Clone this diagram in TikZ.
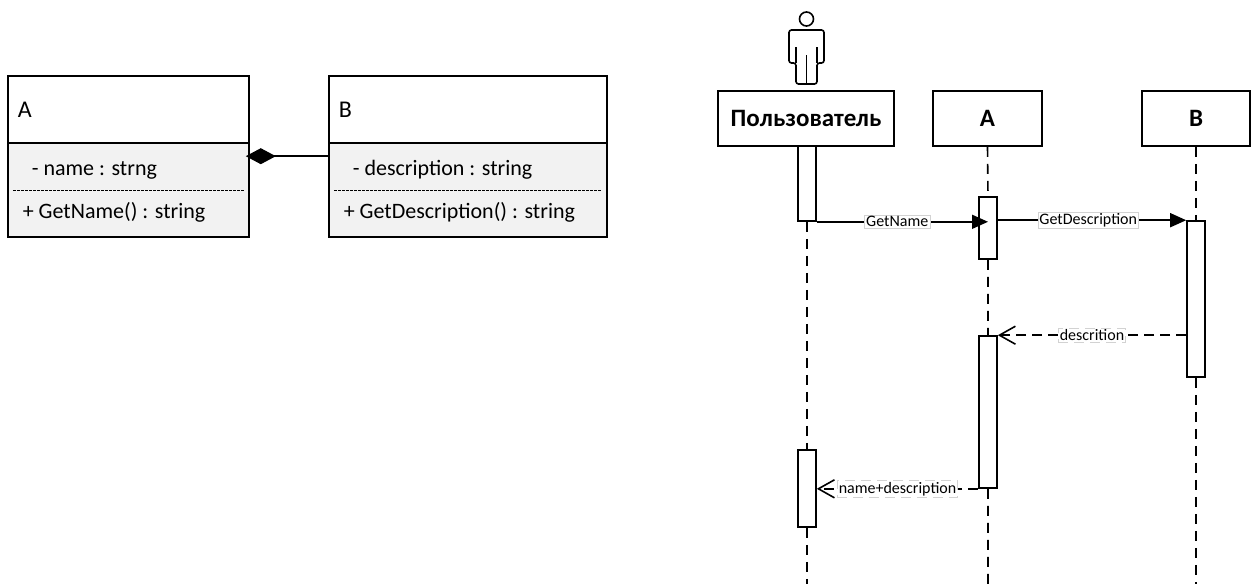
\documentclass[tikz,border=0pt]{standalone}
\usepackage{fontspec}
\setmainfont{Carlito}
\usetikzlibrary{arrows.meta,calc}

\begin{document}
\begin{tikzpicture}[x=1pt, y=-1pt, line width=1.6pt,
		head/.style={draw, fill=white, inner sep=0, minimum height=67pt},
		body/.style={draw, fill=gray!10, inner sep=0, minimum height=94pt},
		txt/.style={anchor=base west, inner sep=0, font=\fontsize{22}{26}\selectfont},
		sep/.style={line width=1pt, dash pattern=on 2.5pt off 1.5pt},
		obj/.style={draw, fill=white, inner sep=0, minimum height=55pt, font=\bfseries\fontsize{25}{29}\selectfont},
		act/.style={draw, fill=white, inner sep=0, minimum width=18pt},
		life/.style={dash pattern=on 10pt off 7pt},
		msg/.style={fill=white, draw=gray!35, line width=0.6pt, inner sep=1.5pt, font=\fontsize{16}{19}\selectfont},
		call/.style={-{Triangle[length=16pt,width=14pt]}},
		back/.style={-{Straight Barb[length=16pt,width=18pt]}, dash pattern=on 10pt off 6pt}]
		\useasboundingbox (0,0) rectangle (1251,584);
		
		\node[head, minimum width=241pt] (0) at (128.5,109.5) {};
		\node[body, minimum width=241pt] (1) at (128.5,190) {};
		\node[head, minimum width=278pt] (2) at (468,109.5) {};
		\node[body, minimum width=278pt] (3) at (468,190) {};
		
		\node[txt, font=\fontsize{24}{28}\selectfont] (4) at (17,117) {A};
		\node[txt] (5) at (31,175) {- name : strng};
		\node[txt] (6) at (22,218) {+ GetName() : string};
		\node[txt, font=\fontsize{24}{28}\selectfont] (7) at (338,117) {B};
		\node[txt] (8) at (352,175) {- description : string};
		\node[txt] (9) at (343,218) {+ GetDescription() : string};
		
		\draw[sep] ([xshift=6pt]1.west) -- ([xshift=-6pt]1.east);
		\draw[sep] ([xshift=6pt]3.west) -- ([xshift=-6pt]3.east);
		\draw[{Diamond[length=30pt,width=16pt]}-] ([xshift=-4pt,yshift=-14pt]1.north east) -- ([yshift=-14pt]3.north west);
		
		\draw[rounded corners=2.5pt] (796,84) -- (796,63) -- (789,63) -- (789,30) -- (824,30) -- (824,63) -- (817,63) -- (817,84) -- cycle;
		\draw (796,47) -- (796,63) (817,47) -- (817,63) (806.5,55) -- (806.5,84);
		\draw (806.5,19) circle[radius=7pt];
		
		\node[obj, minimum width=176pt] (10) at (806,118.5) {Пользователь};
		\node[obj, minimum width=109pt] (11) at (987.5,118.5) {A};
		\node[obj, minimum width=108pt] (12) at (1196,118.5) {B};
		
		\node[act, minimum height=75pt] (13) at (807,183.5) {};
		\node[act, minimum height=62pt] (14) at (988,228) {};
		\node[act, minimum height=156pt] (15) at (1196,299) {};
		\node[act, minimum height=152pt] (16) at (988,412) {};
		\node[act, minimum height=77pt] (17) at (807,488.5) {};
		
		\coordinate (18) at (807,584);
		\coordinate (19) at (988,584);
		\coordinate (20) at (1196,584);
		
		\draw[life] (13.south) -- (17.north) (17.south) -- (18);
		\draw[life] (11.south) -- (14.north) (14.south) -- (16.north) (16.south) -- (19);
		\draw[life] (12.south) -- (15.north) (15.south) -- (20);
		
		\draw[call] (13.south east) -- node[msg, pos=0.47] {GetName} (13.south east -| 14.center);
		\draw[call] (15.north west -| 14.east) -- node[msg, pos=0.48] {GetDescription} (15.north west);
		\draw[back] (16.north east -| 15.west) -- node[msg] {descrition} (16.north east);
		\draw[back] (16.south west) -- node[msg] {name+description} (16.south west -| 17.east);
	\end{tikzpicture}
\end{document}
